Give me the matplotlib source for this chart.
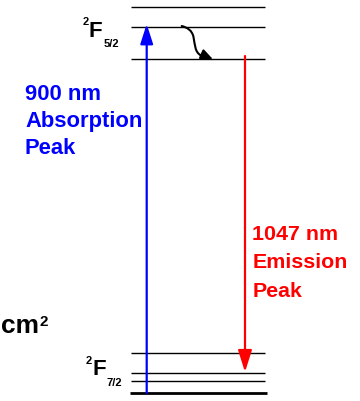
import matplotlib
matplotlib.use('Agg')
import matplotlib.pyplot as plt
from matplotlib.path import Path
from matplotlib.patches import FancyArrowPatch

plt.rcParams['font.family'] = ['Liberation Sans', 'DejaVu Sans']

# Level diagram in image-like units (y grows downward)
upper_levels = [7, 27, 59]          # 2F5/2 manifold
lower_levels = [353, 373, 381]      # 2F7/2 manifold
ground_level = 393
level_x = [131, 265]

absorption_x = 146.7
absorption_top = 24
emission_x = 245
emission_start = 56
emission_end = 372

# relaxation path inside the upper manifold (bezier nodes)
relax_x = [181.7, 187, 192, 193.5, 195, 194.5, 201, 205, 209, 213]
relax_y = [26, 27.5, 30, 37, 44, 52, 55.5, 57, 57.5, 59.3]

absorption_label = ['900 nm', 'Absorption', 'Peak']
emission_label = ['1047 nm', 'Emission', 'Peak']

W, H = 360, 401
fig = plt.figure(figsize=(W / 100, H / 100), dpi=100)
ax = fig.add_axes([0, 0, 1, 1])
ax.set_xlim(0, W)
ax.set_ylim(H, 0)
ax.axis('off')

for y in upper_levels + lower_levels:
    ax.plot(level_x, [y, y], color='black', lw=1.0, solid_capstyle='butt')
ax.plot([level_x[0] - 1, level_x[1] + 2], [ground_level, ground_level],
        color='black', lw=2.0, solid_capstyle='butt')

# absorption (blue, up)
ax.annotate('', xy=(absorption_x, absorption_top), xytext=(absorption_x, ground_level),
            arrowprops=dict(arrowstyle='-|>,head_length=1.0,head_width=0.32',
                            color='#0000ff', lw=1.6, shrinkA=0, shrinkB=0,
                            mutation_scale=12))
# emission (red, down)
ax.annotate('', xy=(emission_x, emission_end), xytext=(emission_x, emission_start),
            arrowprops=dict(arrowstyle='-|>,head_length=1.1,head_width=0.35',
                            color='#ff0000', lw=1.6, shrinkA=0, shrinkB=0,
                            mutation_scale=12))

# non-radiative relaxation
verts = list(zip(relax_x, relax_y))
codes = [Path.MOVETO] + [Path.CURVE4] * (len(verts) - 1)
relax = FancyArrowPatch(path=Path(verts, codes),
                        arrowstyle='-|>,head_length=0.7,head_width=0.3',
                        mutation_scale=10, color='black', lw=1.5)
ax.add_patch(relax)

# term symbols
ax.text(83, 25, '2', fontsize=8, fontweight='bold', ha='left', va='baseline')
ax.text(88.5, 37.3, 'F', fontsize=16, fontweight='bold', ha='left', va='baseline')
ax.text(103.5, 47, '5/2', fontsize=8, fontweight='bold', ha='left', va='baseline')

ax.text(86, 363.5, '2', fontsize=8, fontweight='bold', ha='left', va='baseline')
ax.text(92.5, 375, 'F', fontsize=16, fontweight='bold', ha='left', va='baseline')
ax.text(106.5, 385.5, '7/2', fontsize=8, fontweight='bold', ha='left', va='baseline')

# labels
for i, s in enumerate(absorption_label):
    ax.text(25, 100 + 27 * i, s, fontsize=15.8, fontweight='bold', color='#0000ff',
            ha='left', va='baseline')
for i, s in enumerate(emission_label):
    ax.text(252.5, 240 + 28.5 * i, s, fontsize=15.4, fontweight='bold', color='#ff0000',
            ha='left', va='baseline')

# unit at the left edge
ax.text(0.5, 333, 'cm', fontsize=19, fontweight='bold', ha='left', va='baseline')
ax.text(39.5, 325.5, '2', fontsize=11, fontweight='bold', ha='left', va='baseline')

fig.savefig('out.png', dpi=100)
